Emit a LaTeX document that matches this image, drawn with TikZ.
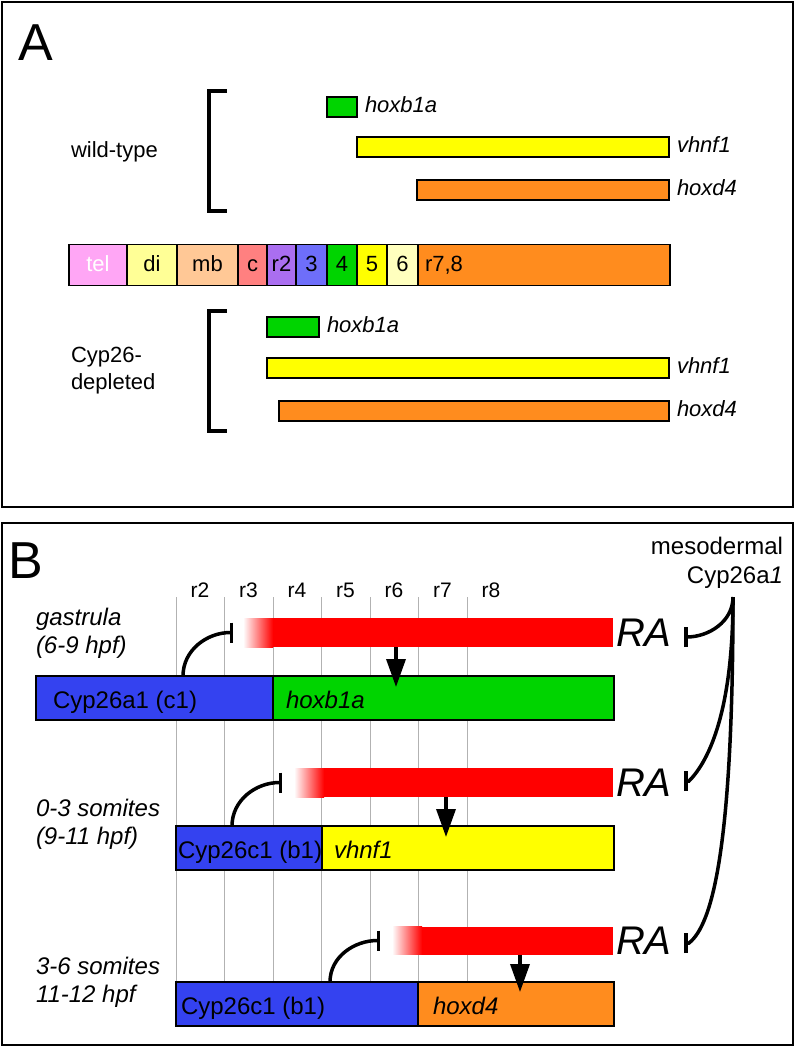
\documentclass[tikz,border=0pt]{standalone}
\usepackage{fontspec}
\setmainfont{Liberation Sans}
\usetikzlibrary{positioning,arrows.meta}

\definecolor{telpink}{RGB}{255,166,245}
\definecolor{dicol}{RGB}{255,255,150}
\definecolor{mbcol}{RGB}{255,200,150}
\definecolor{ccol}{RGB}{255,128,128}
\definecolor{rtwo}{RGB}{170,110,240}
\definecolor{rthree}{RGB}{110,110,250}
\definecolor{hoxgreen}{RGB}{0,212,0}
\definecolor{hoxyellow}{RGB}{255,255,0}
\definecolor{rsix}{RGB}{255,255,190}
\definecolor{hoxorange}{RGB}{255,140,30}
\definecolor{cypblue}{RGB}{52,66,240}

\begin{document}
\begin{tikzpicture}
[
x=1pt, y=1pt,
every node/.style={inner sep=0pt, outer sep=0pt},
seg/.style={draw, line width=1.5pt, anchor=west},
strip/.style={seg, minimum height=41pt, text height=16pt, text depth=4pt, font=\fontsize{22}{26}\selectfont},
gbar/.style={seg, minimum height=20pt},
bbar/.style={seg, minimum height=44pt},
redbar/.style={fill=red, minimum height=29pt, anchor=west},
gene/.style={anchor=west, text height=16pt, text depth=5pt, font=\fontsize{22}{26}\selectfont\itshape},
lblA/.style={anchor=west, align=left, font=\fontsize{22}{27}\selectfont},
lbl/.style={anchor=west, text height=17pt, text depth=5pt, font=\fontsize{24}{28}\selectfont},
genb/.style={lbl, font=\fontsize{24}{28}\selectfont\itshape},
stage/.style={anchor=west, align=left, font=\fontsize{24}{28}\selectfont\itshape},
ra/.style={anchor=west, font=\fontsize{40}{44}\selectfont\itshape},
panel/.style={anchor=base west, font=\fontsize{52}{58}\selectfont},
inh/.style={line width=3.5pt, -{Bar[width=20pt]}},
act/.style={line width=3.5pt, -{Triangle[width=19pt,length=28pt]}}
]
\useasboundingbox (0,0) rectangle (794,-1047);
\draw[line width=2pt] (1.5,-1.5) rectangle (792.5,-507);
\draw[line width=2pt] (1.5,-523) rectangle (792.5,-1044.5);

\node[panel] (pA) at (19,-60) {A};
\node[panel] (pB) at (9,-578) {B};

\node[lblA] (wt) at (71,-152) {wild-type};
\draw[line width=3.5pt] (227,-91) -- (209,-91) -- (209,-211) -- (227,-211);
\node[gbar, fill=hoxgreen, minimum width=30pt] (wtb) at (327,-107) {};
\node[gene, right=8pt of wtb] (wtbl) {hoxb1a};
\node[gbar, fill=hoxyellow, minimum width=312pt] (wtv) at (357,-147) {};
\node[gene, right=8pt of wtv] (wtvl) {vhnf1};
\node[gbar, fill=hoxorange, minimum width=252pt] (wtd) at (417,-190) {};
\node[gene, right=8pt of wtd] (wtdl) {hoxd4};

\node[strip, fill=telpink, text=white, minimum width=58pt] (tel) at (69,-265) {tel};
\node[strip, fill=dicol, minimum width=50pt, right=0pt of tel] (di) {di};
\node[strip, fill=mbcol, minimum width=61pt, right=0pt of di] (mb) {mb};
\node[strip, fill=ccol, minimum width=29pt, right=0pt of mb] (cer) {c};
\node[strip, fill=rtwo, minimum width=29pt, right=0pt of cer] (rb2) {r2};
\node[strip, fill=rthree, minimum width=31pt, right=0pt of rb2] (rb3) {3};
\node[strip, fill=hoxgreen, minimum width=30pt, right=0pt of rb3] (rb4) {4};
\node[strip, fill=hoxyellow, minimum width=30pt, right=0pt of rb4] (rb5) {5};
\node[strip, fill=rsix, minimum width=31pt, right=0pt of rb5] (rb6) {6};
\node[strip, fill=hoxorange, minimum width=252pt, right=0pt of rb6] (rb78) {};
\node[strip, draw=none, anchor=west] (rb78l) at ([xshift=7pt]rb78.west) {r7,8};

\node[lblA] (dep) at (71,-371) {Cyp26-\\depleted};
\draw[line width=3.5pt] (227,-311) -- (209,-311) -- (209,-431) -- (227,-431);
\node[gbar, fill=hoxgreen, minimum width=52pt] (mob) at (267,-327) {};
\node[gene, right=8pt of mob] (mobl) {hoxb1a};
\node[gbar, fill=hoxyellow, minimum width=402pt] (mov) at (267,-368) {};
\node[gene, right=8pt of mov] (movl) {vhnf1};
\node[gbar, fill=hoxorange, minimum width=390pt] (mod) at (279,-411) {};
\node[gene, right=8pt of mod] (modl) {hoxd4};

\foreach \i in {0,...,6}
  \draw[black!30, line width=0.8pt] (176+48.5*\i,-597) -- (176+48.5*\i,-1026);
\foreach \r [count=\i from 0] in {2,...,8}
  \node[font=\fontsize{21}{24}\selectfont] (lab\r) at (200+48.5*\i,-590) {r\r};

\node[font=\fontsize{24}{29}\selectfont, align=right, anchor=north east] (meso) at (783,-537) {mesodermal\\Cyp26a\textit{1}};
\coordinate (mo) at (733,-597);

\node[stage] (st1) at (36,-633) {gastrula\\(6-9 hpf)};
\node[bbar, fill=cypblue, minimum width=237pt] (cyp1) at (36,-698) {};
\node[bbar, fill=hoxgreen, minimum width=341pt] (hox1) at (cyp1.east) {};
\node[lbl, right=17pt of cyp1.west, yshift=-4pt] (cyp1l) {Cyp26a1 (c1)};
\node[genb, right=13pt of hox1.west, yshift=-4pt] (hox1l) {hoxb1a};
\node[redbar, minimum width=370pt] (red1) at (243,-632.5) {};
\shade[left color=white, right color=red] (red1.south west) rectangle ([xshift=30pt]red1.north west);
\node[ra, right=3pt of red1] (ra1) {RA};
\coordinate (c1s) at (183,-676);
\coordinate (d1) at (396,-687);
\coordinate (t1) at (684,-637);
\draw[inh] (c1s) to[out=90,in=180] ([xshift=-10pt]red1.west);
\draw[act] (d1 |- red1.south) -- (d1);

\node[stage] (st2) at (36,-824) {0-3 somites\\(9-11 hpf)};
\node[bbar, fill=cypblue, minimum width=146pt] (cyp2) at (176,-848) {};
\node[bbar, fill=hoxyellow, minimum width=292pt] (hox2) at (cyp2.east) {};
\node[lbl, right=2pt of cyp2.west, yshift=-4pt] (cyp2l) {Cyp26c1 (b1)};
\node[genb, right=12pt of hox2.west, yshift=-4pt] (hox2l) {vhnf1};
\node[redbar, minimum width=319pt] (red2) at (294,-782.5) {};
\shade[left color=white, right color=red] (red2.south west) rectangle ([xshift=30pt]red2.north west);
\node[ra, right=3pt of red2] (ra2) {RA};
\coordinate (c2s) at (232,-826);
\coordinate (d2) at (446,-837);
\coordinate (t2) at (684,-781);
\draw[inh] (c2s) to[out=90,in=180] ([xshift=-12pt]red2.west);
\draw[act] (d2 |- red2.south) -- (d2);

\node[stage] (st3) at (36,-982) {3-6 somites\\11-12 hpf};
\node[bbar, fill=cypblue, minimum width=242pt] (cyp3) at (176,-1004) {};
\node[bbar, fill=hoxorange, minimum width=196pt] (hox3) at (cyp3.east) {};
\node[lbl, right=5pt of cyp3.west, yshift=-4pt] (cyp3l) {Cyp26c1 (b1)};
\node[genb, right=15pt of hox3.west, yshift=-4pt] (hox3l) {hoxd4};
\node[redbar, minimum width=221pt, minimum height=28pt] (red3) at (392,-940.5) {};
\shade[left color=white, right color=red] (red3.south west) rectangle ([xshift=30pt]red3.north west);
\node[ra, right=3pt of red3] (ra3) {RA};
\coordinate (c3s) at (330,-982);
\coordinate (d3) at (520,-992);
\coordinate (t3) at (684,-943);
\draw[inh] (c3s) to[out=90,in=180] ([xshift=-12pt]red3.west);
\draw[act] (d3 |- red3.south) -- (d3);

\draw[inh] (mo) to[out=-90,in=0] (t1);
\draw[inh] (mo) .. controls (733,-720) and (705,-765) .. ([xshift=5pt]t2) -- (t2);
\draw[inh] (mo) .. controls (733,-850) and (712,-925) .. ([xshift=5pt]t3) -- (t3);
\end{tikzpicture}
\end{document}
